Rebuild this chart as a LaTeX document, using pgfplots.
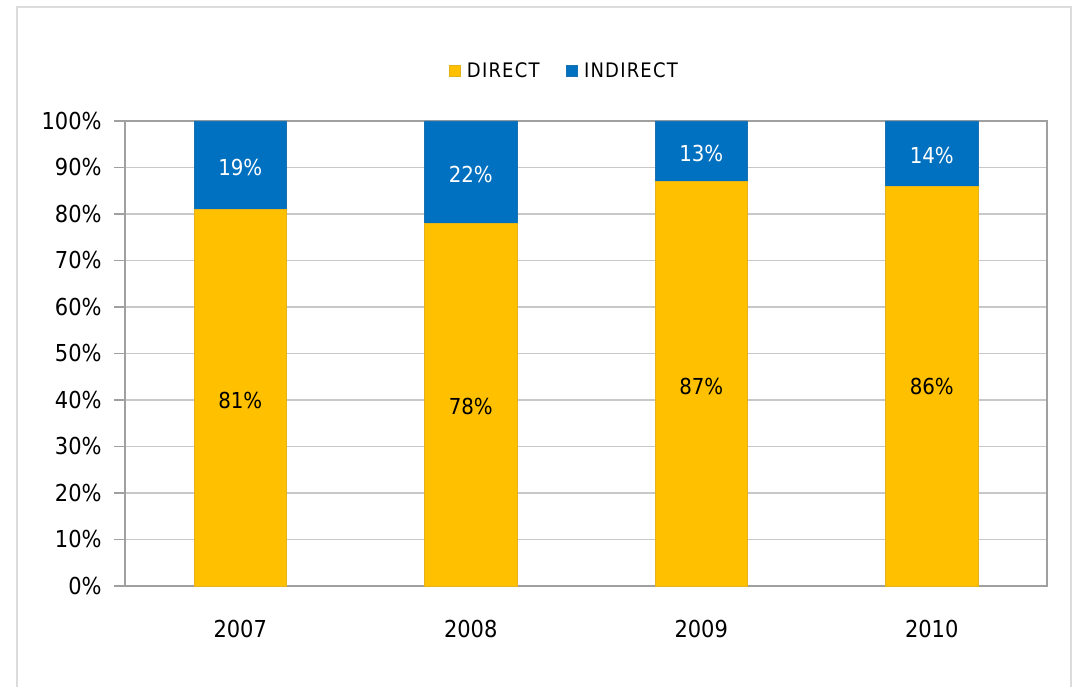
\documentclass[border=0pt]{standalone}
\usepackage{pgfplots}
\pgfplotsset{compat=1.18}
\usepackage{fontspec}
\setmainfont{DejaVu Sans Condensed}
\definecolor{cdirect}{HTML}{FFC000}
\definecolor{cindirect}{HTML}{0070C0}
\definecolor{gridc}{HTML}{C8C8C8}
\definecolor{framec}{HTML}{A0A0A0}
\definecolor{outerc}{HTML}{DCDCDC}
\begin{document}
\begin{tikzpicture}
\useasboundingbox (0pt,0pt) rectangle (805.5pt,514.5pt);
\draw[outerc, line width=2pt] (12.75pt,-10pt) -- (12.75pt,509.25pt) -- (803.25pt,509.25pt) -- (803.25pt,-10pt);
\begin{axis}[
  at={(93.75pt,75pt)}, anchor=south west,
  scale only axis, width=691.5pt, height=348.75pt,
  ybar stacked, bar width=0.4,
  xmin=-0.5, xmax=3.5, ymin=0, ymax=100,
  /pgf/number format/assume math mode=true,
  xtick={0,1,2,3}, xticklabels={2007,2008,2009,2010},
  extra x ticks={-0.5,0.5,1.5,2.5,3.5}, extra x tick labels={},
  extra x tick style={major tick length=8pt, tick style={framec, line width=0.8pt}, tick align=outside, grid=none},
  x tick label style={yshift=-14pt, font=\fontsize{17.5}{20}\selectfont, text=black},
  xtick style={draw=none},
  ytick={0,10,...,100},
  yticklabel={\pgfmathprintnumber{\tick}\%},
  y tick label style={font=\fontsize{17.5}{20}\selectfont, xshift=-6pt, text=black},
  ytick style={framec, line width=0.8pt}, major tick length=8pt, tick align=outside, tick pos=left,
  ymajorgrids, grid style={gridc, line width=0.8pt},
  axis line style={framec, line width=1pt},
  legend style={draw=none, fill=none, at={(axis description cs:0.477,1.1075)}, anchor=center,
    legend columns=2, font=\fontsize{15}{17}\selectfont\addfontfeature{LetterSpace=6},
    text=black,
    /tikz/every even column/.append style={column sep=18pt}},
  legend image code/.code={\fill[#1] (0pt,-4pt) rectangle (8pt,4pt);},
  legend cell align=left,
]
\addplot[fill=cdirect, draw=cdirect!80!gray, line width=0.4pt] coordinates {(0,81) (1,78) (2,87) (3,86)};
\addplot[fill=cindirect, draw=cindirect!80!gray, line width=0.4pt] coordinates {(0,19) (1,22) (2,13) (3,14)};
\legend{\hspace{3pt}DIRECT, \hspace{3pt}INDIRECT}
\end{axis}
\begin{axis}[
  at={(93.75pt,75pt)}, anchor=south west,
  scale only axis, width=691.5pt, height=348.75pt,
  xmin=-0.5, xmax=3.5, ymin=0, ymax=100, hide axis,
]
\addplot[only marks, mark=none, nodes near coords, point meta=explicit symbolic,
  every node near coord/.append style={anchor=center, text=black, font=\fontsize{16.5}{18}\selectfont}]
  table[meta=label] {
x y label
0 40 81\%
1 38.5 78\%
2 43 87\%
3 43 86\%
};
\addplot[only marks, mark=none, nodes near coords, point meta=explicit symbolic,
  every node near coord/.append style={anchor=center, text=white, font=\fontsize{16.5}{18}\selectfont}]
  table[meta=label] {
x y label
0 90 19\%
1 88.5 22\%
2 93 13\%
3 92.5 14\%
};
\end{axis}
\end{tikzpicture}
\end{document}
